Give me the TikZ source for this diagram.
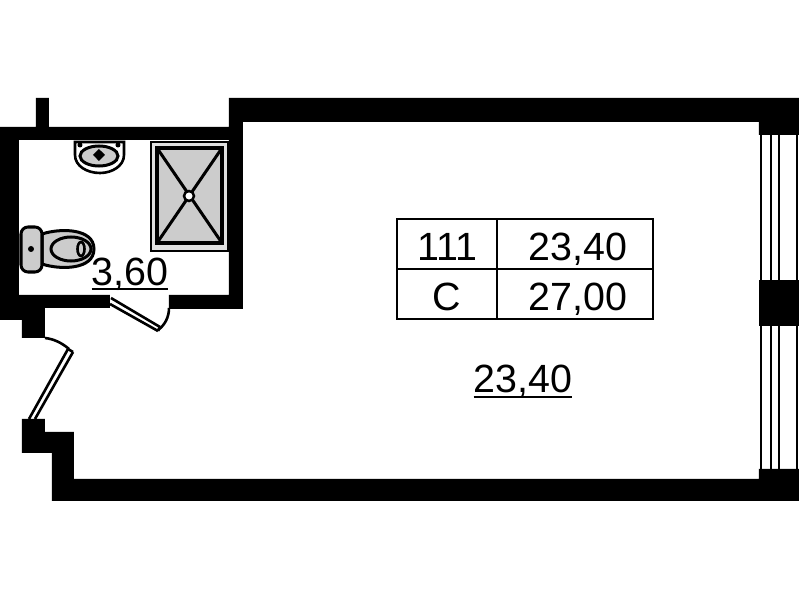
\documentclass[tikz,border=0pt]{standalone}
\usepackage{fontspec}
\setmainfont{Liberation Sans}
\tikzset{
    wall/.style={fill=black, draw=none},
    thinline/.style={draw=black, line width=0.026cm},
    fixture/.style={draw=black, line width=0.03cm, fill=fixturegray},
    tablecell/.style={draw=black, line width=0.024cm, rectangle, inner sep=0pt, minimum height=0.5cm, text height=0.32cm, text depth=0cm, font=\fontsize{11.2}{13}\selectfont},
    valuecell/.style={tablecell, minimum width=1.56cm, execute at begin node=\hspace*{0.06cm}},
    arealabel/.style={inner sep=0pt, anchor=base, font=\fontsize{11.2}{13}\selectfont}
}
\definecolor{fixturegray}{gray}{0.8}
\newcommand{\arealine}[1]{\setbox0\hbox{#1}\rlap{\rule[-0.05cm]{\wd0}{0.022cm}}\box0}

\begin{document}
\begin{tikzpicture}[x=0.01cm, y=-0.01cm]
    \useasboundingbox (0, 0) rectangle (799, 600);

    % walls
    \fill[wall] (229, 98) -- (799, 98) -- (799, 135) -- (759, 135) -- (759, 122) -- (243, 122)
        -- (243, 309) -- (169, 309) -- (169, 295) -- (229, 295) -- (229, 140) -- (19, 140)
        -- (19, 295) -- (110, 295) -- (110, 308) -- (45, 308) -- (45, 338) -- (22, 338)
        -- (22, 320) -- (0, 320) -- (0, 127) -- (36, 127) -- (36, 98) -- (49, 98) -- (49, 127)
        -- (229, 127) -- cycle;
    \fill[wall] (22, 419) -- (45, 419) -- (45, 432) -- (74, 432) -- (74, 479) -- (759, 479)
        -- (759, 469) -- (799, 469) -- (799, 501) -- (52, 501) -- (52, 453) -- (22, 453) -- cycle;
    \fill[wall] (759, 280) rectangle (799, 326);

    % windows
    \foreach \x in {761, 771, 779, 797} {
        \draw[thinline] (\x, 135) -- (\x, 280);
        \draw[thinline] (\x, 326) -- (\x, 469);
    }

    % doors
    \draw[thinline] (111, 298) -- (160, 327);
    \draw[thinline] (110, 304) -- (158, 331);
    \draw[thinline] (160, 327) -- (158, 331);
    \draw[thinline] (158, 330) .. controls (165, 325) and (169, 317) .. (169, 308);
    \draw[thinline] (29, 419) -- (68, 349);
    \draw[thinline] (35, 419) -- (73, 352);
    \draw[thinline] (68, 349) -- (73, 352);
    \draw[thinline] (45, 338) .. controls (54, 339) and (62, 343) .. (69, 349);

    % shower
    \draw[thinline, fill=fixturegray!60] (151, 142) rectangle (228, 251);
    \draw[black, line width=0.03cm, fill=fixturegray] (157, 148) rectangle (222, 243);
    \draw[black, line width=0.03cm] (157, 148) -- (222, 243);
    \draw[black, line width=0.03cm] (222, 148) -- (157, 243);
    \draw[black, line width=0.025cm, fill=white] (189, 196) circle (5);

    % sink
    \draw[thinline, fill=white] (75, 142) -- (124, 142) -- (124, 155)
        .. controls (124, 166) and (112, 173) .. (100, 173)
        .. controls (87, 173) and (75, 166) .. (75, 155) -- cycle;
    \draw[fixture] (99, 156) ellipse (19 and 10);
    \fill[black] (80, 145) circle (2.5);
    \fill[black] (118, 145) circle (2.5);
    \fill[black] (99, 149) -- (105, 155) -- (99, 161) -- (93, 155) -- cycle;

    % toilet
    \draw[fixture] (42, 234) .. controls (60, 228) and (94, 228) .. (94, 249)
        .. controls (94, 270) and (60, 270) .. (42, 264) -- cycle;
    \draw[fixture, rounded corners=2] (21, 227) rectangle (42, 272);
    \fill[black] (31, 249) circle (3);
    \draw[fixture] (71, 249) ellipse (20 and 12);
    \draw[thinline] (81, 249) ellipse (3.5 and 7);

    % table
    \node[tablecell, minimum width=1cm] (num) at (447, 244) {111};
    \node[valuecell] (areaA) at (575, 244) {23,40};
    \node[tablecell, minimum width=1cm] (type) at (447, 294) {C};
    \node[valuecell] (areaB) at (575, 294) {27,00};

    % areas
    \node[arealabel] (bath) at (130, 285) {\arealine{3,60}};
    \node[arealabel] (room) at (523, 393) {\arealine{23,40}};
\end{tikzpicture}
\end{document}
